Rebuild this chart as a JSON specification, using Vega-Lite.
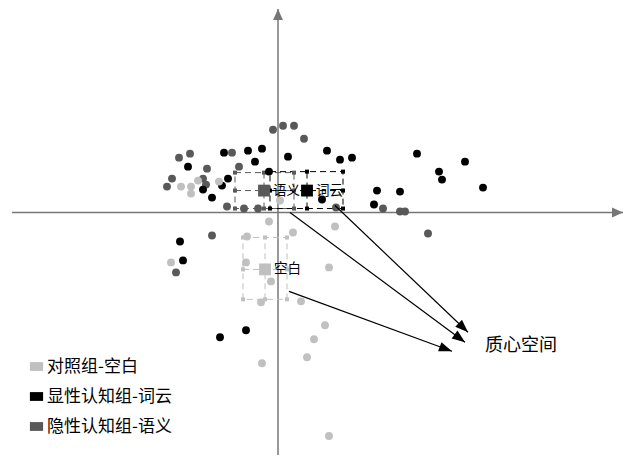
{
  "$schema": "https://vega.github.io/schema/vega-lite/v6.json",
  "width": 625,
  "height": 456,
  "autosize": {"type": "fit", "contains": "padding"},
  "padding": 0,
  "background": "white",
  "config": {"view": {"stroke": null}, "font": "Noto Sans CJK SC"},
  "datasets": {
    "pts": [
      {"g": "隐性认知组-语义", "x": -5, "y": 83}, {"g": "隐性认知组-语义", "x": 5, "y": 87}, {"g": "隐性认知组-语义", "x": 16, "y": 87},
      {"g": "隐性认知组-语义", "x": 26, "y": 74}, {"g": "隐性认知组-语义", "x": -99, "y": 55}, {"g": "隐性认知组-语义", "x": -88, "y": 59},
      {"g": "隐性认知组-语义", "x": -46, "y": 60}, {"g": "隐性认知组-语义", "x": -39, "y": 46}, {"g": "隐性认知组-语义", "x": -71, "y": 44},
      {"g": "隐性认知组-语义", "x": -106, "y": 34}, {"g": "隐性认知组-语义", "x": -111, "y": 26}, {"g": "隐性认知组-语义", "x": -75, "y": 34},
      {"g": "隐性认知组-语义", "x": -72, "y": 28}, {"g": "隐性认知组-语义", "x": -51, "y": 6}, {"g": "隐性认知组-语义", "x": -34, "y": 4},
      {"g": "隐性认知组-语义", "x": -20, "y": 4}, {"g": "隐性认知组-语义", "x": 58, "y": 5}, {"g": "隐性认知组-语义", "x": 105, "y": 4},
      {"g": "隐性认知组-语义", "x": 122, "y": 1}, {"g": "隐性认知组-语义", "x": 127, "y": 1}, {"g": "隐性认知组-语义", "x": 150, "y": -21},
      {"g": "隐性认知组-语义", "x": -66, "y": -23}, {"g": "隐性认知组-语义", "x": -102, "y": -60},
      {"g": "显性认知组-词云", "x": -54, "y": 60}, {"g": "显性认知组-词云", "x": -30, "y": 62}, {"g": "显性认知组-词云", "x": -16, "y": 64},
      {"g": "显性认知组-词云", "x": -23, "y": 51}, {"g": "显性认知组-词云", "x": -90, "y": 46}, {"g": "显性认知组-词云", "x": -50, "y": 34},
      {"g": "显性认知组-词云", "x": -56, "y": 27}, {"g": "显性认知组-词云", "x": -75, "y": 23}, {"g": "显性认知组-词云", "x": -66, "y": 15},
      {"g": "显性认知组-词云", "x": -9, "y": 41}, {"g": "显性认知组-词云", "x": 10, "y": 56}, {"g": "显性认知组-词云", "x": 49, "y": 62},
      {"g": "显性认知组-词云", "x": 62, "y": 53}, {"g": "显性认知组-词云", "x": 74, "y": 55}, {"g": "显性认知组-词云", "x": 44, "y": 13},
      {"g": "显性认知组-词云", "x": 99, "y": 22}, {"g": "显性认知组-词云", "x": 96, "y": 8}, {"g": "显性认知组-词云", "x": 122, "y": 21},
      {"g": "显性认知组-词云", "x": 139, "y": 59}, {"g": "显性认知组-词云", "x": 187, "y": 51}, {"g": "显性认知组-词云", "x": 161, "y": 41},
      {"g": "显性认知组-词云", "x": 164, "y": 33}, {"g": "显性认知组-词云", "x": 205, "y": 25}, {"g": "显性认知组-词云", "x": -98, "y": -29},
      {"g": "显性认知组-词云", "x": -95, "y": -48}, {"g": "显性认知组-词云", "x": -32, "y": -118}, {"g": "显性认知组-词云", "x": -58, "y": -125},
      {"g": "对照组-空白", "x": -97, "y": 26}, {"g": "对照组-空白", "x": -87, "y": 26}, {"g": "对照组-空白", "x": -87, "y": 19},
      {"g": "对照组-空白", "x": -80, "y": 32}, {"g": "对照组-空白", "x": -59, "y": 31}, {"g": "对照组-空白", "x": 2, "y": 12},
      {"g": "对照组-空白", "x": -9, "y": -9}, {"g": "对照组-空白", "x": 15, "y": -20}, {"g": "对照组-空白", "x": 57, "y": -14},
      {"g": "对照组-空白", "x": -31, "y": -24}, {"g": "对照组-空白", "x": -32, "y": -50}, {"g": "对照组-空白", "x": -7, "y": -69},
      {"g": "对照组-空白", "x": 51, "y": -55}, {"g": "对照组-空白", "x": -17, "y": -90}, {"g": "对照组-空白", "x": 23, "y": -89},
      {"g": "对照组-空白", "x": 47, "y": -113}, {"g": "对照组-空白", "x": 36, "y": -127}, {"g": "对照组-空白", "x": 29, "y": -145},
      {"g": "对照组-空白", "x": -16, "y": -151}, {"g": "对照组-空白", "x": 51, "y": -224}, {"g": "对照组-空白", "x": -107, "y": -50}
    ],
    "boxes": [
      {"g": "隐性认知组-语义", "label": "语义", "cx": -14, "cy": 22, "xmin": -43, "xmax": 16, "ymin": 4, "ymax": 40},
      {"g": "显性认知组-词云", "label": "词云", "cx": 29, "cy": 22, "xmin": -8, "xmax": 65, "ymin": 4, "ymax": 41},
      {"g": "对照组-空白", "label": "空白", "cx": -13, "cy": -57, "xmin": -35, "xmax": 9, "ymin": -87, "ymax": -25}
    ],
    "arrows": [
      {"id": "A", "x0": 57, "y0": 7, "x1": 190, "y1": -120},
      {"id": "B", "x0": 12, "y0": 0, "x1": 187, "y1": -130},
      {"id": "C", "x0": 11, "y0": -79, "x1": 174, "y1": -139}
    ],
    "axes": [
      {"axis": "x", "x0": -266, "y0": 0, "x1": 345, "y1": 0},
      {"axis": "y", "x0": 0, "y0": -243, "x1": 0, "y1": 204}
    ],
    "notes": [{"x": 207, "y": -134, "text": "质心空间"}]
  },
  "layer": [
    {
      "data": {"name": "axes"},
      "mark": {"type": "rule", "color": "#777777", "strokeWidth": 1.5},
      "encoding": {
        "x": {"field": "x0", "type": "quantitative", "scale": {"domain": [-278, 347], "nice": false, "zero": false}, "axis": null},
        "y": {"field": "y0", "type": "quantitative", "scale": {"domain": [-243, 213], "nice": false, "zero": false}, "axis": null},
        "x2": {"field": "x1"},
        "y2": {"field": "y1"}
      }
    },
    {
      "data": {"name": "axes"},
      "transform": [{"filter": "datum.axis === 'x'"}],
      "mark": {"type": "point", "shape": "M0,0L-2,-0.9L-2,0.9Z", "size": 121, "filled": true, "color": "#777777", "opacity": 1, "angle": 0, "strokeWidth": 0},
      "encoding": {
        "x": {"field": "x1", "type": "quantitative", "scale": {"domain": [-278, 347], "nice": false, "zero": false}, "axis": null},
        "y": {"field": "y1", "type": "quantitative", "scale": {"domain": [-243, 213], "nice": false, "zero": false}, "axis": null}
      }
    },
    {
      "data": {"name": "axes"},
      "transform": [{"filter": "datum.axis === 'y'"}],
      "mark": {"type": "point", "shape": "M0,0L-2,-0.9L-2,0.9Z", "size": 121, "filled": true, "color": "#777777", "opacity": 1, "angle": 270, "strokeWidth": 0},
      "encoding": {
        "x": {"field": "x1", "type": "quantitative", "scale": {"domain": [-278, 347], "nice": false, "zero": false}, "axis": null},
        "y": {"field": "y1", "type": "quantitative", "scale": {"domain": [-243, 213], "nice": false, "zero": false}, "axis": null}
      }
    },
    {
      "data": {"name": "boxes"},
      "mark": {"type": "rect", "filled": false, "strokeWidth": 1, "strokeDash": [6, 4]},
      "encoding": {
        "x": {"field": "xmin", "type": "quantitative", "scale": {"domain": [-278, 347], "nice": false, "zero": false}, "axis": null},
        "x2": {"field": "xmax"},
        "y": {"field": "ymin", "type": "quantitative", "scale": {"domain": [-243, 213], "nice": false, "zero": false}, "axis": null},
        "y2": {"field": "ymax"},
        "color": {"field": "g", "type": "nominal"}
      }
    },
    {
      "data": {"name": "boxes"},
      "mark": {"type": "rule", "strokeWidth": 1, "strokeDash": [6, 4]},
      "encoding": {
        "x": {"field": "xmin", "type": "quantitative", "scale": {"domain": [-278, 347], "nice": false, "zero": false}, "axis": null},
        "x2": {"field": "xmax"},
        "y": {"field": "cy", "type": "quantitative", "scale": {"domain": [-243, 213], "nice": false, "zero": false}, "axis": null},
        "color": {"field": "g", "type": "nominal"}
      }
    },
    {
      "data": {"name": "boxes"},
      "mark": {"type": "rule", "strokeWidth": 1, "strokeDash": [6, 4]},
      "encoding": {
        "x": {"field": "cx", "type": "quantitative", "scale": {"domain": [-278, 347], "nice": false, "zero": false}, "axis": null},
        "y": {"field": "ymin", "type": "quantitative", "scale": {"domain": [-243, 213], "nice": false, "zero": false}, "axis": null},
        "y2": {"field": "ymax"},
        "color": {"field": "g", "type": "nominal"}
      }
    },
    {
      "data": {"name": "boxes"},
      "transform": [
        {"fold": ["xmin", "cx", "xmax"], "as": ["xk", "mx"]},
        {"fold": ["ymin", "cy", "ymax"], "as": ["yk", "my"]},
        {"filter": "!(datum.xk === 'cx' && datum.yk === 'cy')"}
      ],
      "mark": {"type": "point", "shape": "square", "size": 16, "filled": true, "opacity": 1, "strokeWidth": 0},
      "encoding": {
        "x": {"field": "mx", "type": "quantitative", "scale": {"domain": [-278, 347], "nice": false, "zero": false}, "axis": null},
        "y": {"field": "my", "type": "quantitative", "scale": {"domain": [-243, 213], "nice": false, "zero": false}, "axis": null},
        "color": {"field": "g", "type": "nominal"}
      }
    },
    {
      "data": {"name": "pts"},
      "mark": {"type": "point", "shape": "circle", "size": 62, "filled": true, "opacity": 1, "strokeWidth": 0},
      "encoding": {
        "x": {"field": "x", "type": "quantitative", "scale": {"domain": [-278, 347], "nice": false, "zero": false}, "axis": null},
        "y": {"field": "y", "type": "quantitative", "scale": {"domain": [-243, 213], "nice": false, "zero": false}, "axis": null},
        "color": {
          "field": "g", "type": "nominal",
          "scale": {"domain": ["对照组-空白", "显性认知组-词云", "隐性认知组-语义"], "range": ["#c0c0c0", "#000000", "#595959"]},
          "legend": {
            "orient": "none", "legendX": 28, "legendY": 358, "title": null,
            "symbolType": "M-1.2,-0.8H1.2V0.8H-1.2Z", "symbolSize": 121,
            "symbolStrokeWidth": 0, "symbolOpacity": 1,
            "labelFontSize": 17, "labelFont": "Noto Sans CJK SC", "labelColor": "#000000",
            "labelOffset": 2, "rowPadding": 12, "padding": 0
          }
        }
      }
    },
    {
      "data": {"name": "boxes"},
      "mark": {"type": "point", "shape": "square", "size": 140, "filled": true, "opacity": 1, "strokeWidth": 0},
      "encoding": {
        "x": {"field": "cx", "type": "quantitative", "scale": {"domain": [-278, 347], "nice": false, "zero": false}, "axis": null},
        "y": {"field": "cy", "type": "quantitative", "scale": {"domain": [-243, 213], "nice": false, "zero": false}, "axis": null},
        "color": {"field": "g", "type": "nominal"}
      }
    },
    {
      "data": {"name": "boxes"},
      "mark": {"type": "text", "align": "left", "baseline": "middle", "dx": 9, "fontSize": 13.5, "color": "#000000", "font": "Noto Sans CJK SC"},
      "encoding": {
        "x": {"field": "cx", "type": "quantitative", "scale": {"domain": [-278, 347], "nice": false, "zero": false}, "axis": null},
        "y": {"field": "cy", "type": "quantitative", "scale": {"domain": [-243, 213], "nice": false, "zero": false}, "axis": null},
        "text": {"field": "label"}
      }
    },
    {
      "data": {"name": "arrows"},
      "mark": {"type": "rule", "color": "#000000", "strokeWidth": 1.2},
      "encoding": {
        "x": {"field": "x0", "type": "quantitative", "scale": {"domain": [-278, 347], "nice": false, "zero": false}, "axis": null},
        "y": {"field": "y0", "type": "quantitative", "scale": {"domain": [-243, 213], "nice": false, "zero": false}, "axis": null},
        "x2": {"field": "x1"},
        "y2": {"field": "y1"}
      }
    },
    {
      "data": {"name": "arrows"},
      "transform": [{"filter": "datum.id === 'A'"}],
      "mark": {"type": "point", "shape": "M0,0L-2,-0.75L-2,0.75Z", "size": 169, "filled": true, "color": "#000000", "opacity": 1, "angle": 43.7, "strokeWidth": 0},
      "encoding": {
        "x": {"field": "x1", "type": "quantitative", "scale": {"domain": [-278, 347], "nice": false, "zero": false}, "axis": null},
        "y": {"field": "y1", "type": "quantitative", "scale": {"domain": [-243, 213], "nice": false, "zero": false}, "axis": null}
      }
    },
    {
      "data": {"name": "arrows"},
      "transform": [{"filter": "datum.id === 'B'"}],
      "mark": {"type": "point", "shape": "M0,0L-2,-0.75L-2,0.75Z", "size": 169, "filled": true, "color": "#000000", "opacity": 1, "angle": 36.6, "strokeWidth": 0},
      "encoding": {
        "x": {"field": "x1", "type": "quantitative", "scale": {"domain": [-278, 347], "nice": false, "zero": false}, "axis": null},
        "y": {"field": "y1", "type": "quantitative", "scale": {"domain": [-243, 213], "nice": false, "zero": false}, "axis": null}
      }
    },
    {
      "data": {"name": "arrows"},
      "transform": [{"filter": "datum.id === 'C'"}],
      "mark": {"type": "point", "shape": "M0,0L-2,-0.75L-2,0.75Z", "size": 169, "filled": true, "color": "#000000", "opacity": 1, "angle": 20.2, "strokeWidth": 0},
      "encoding": {
        "x": {"field": "x1", "type": "quantitative", "scale": {"domain": [-278, 347], "nice": false, "zero": false}, "axis": null},
        "y": {"field": "y1", "type": "quantitative", "scale": {"domain": [-243, 213], "nice": false, "zero": false}, "axis": null}
      }
    },
    {
      "data": {"name": "notes"},
      "mark": {"type": "text", "align": "left", "baseline": "middle", "fontSize": 18, "color": "#000000", "font": "Noto Sans CJK SC"},
      "encoding": {
        "x": {"field": "x", "type": "quantitative", "scale": {"domain": [-278, 347], "nice": false, "zero": false}, "axis": null},
        "y": {"field": "y", "type": "quantitative", "scale": {"domain": [-243, 213], "nice": false, "zero": false}, "axis": null},
        "text": {"field": "text"}
      }
    }
  ]
}
